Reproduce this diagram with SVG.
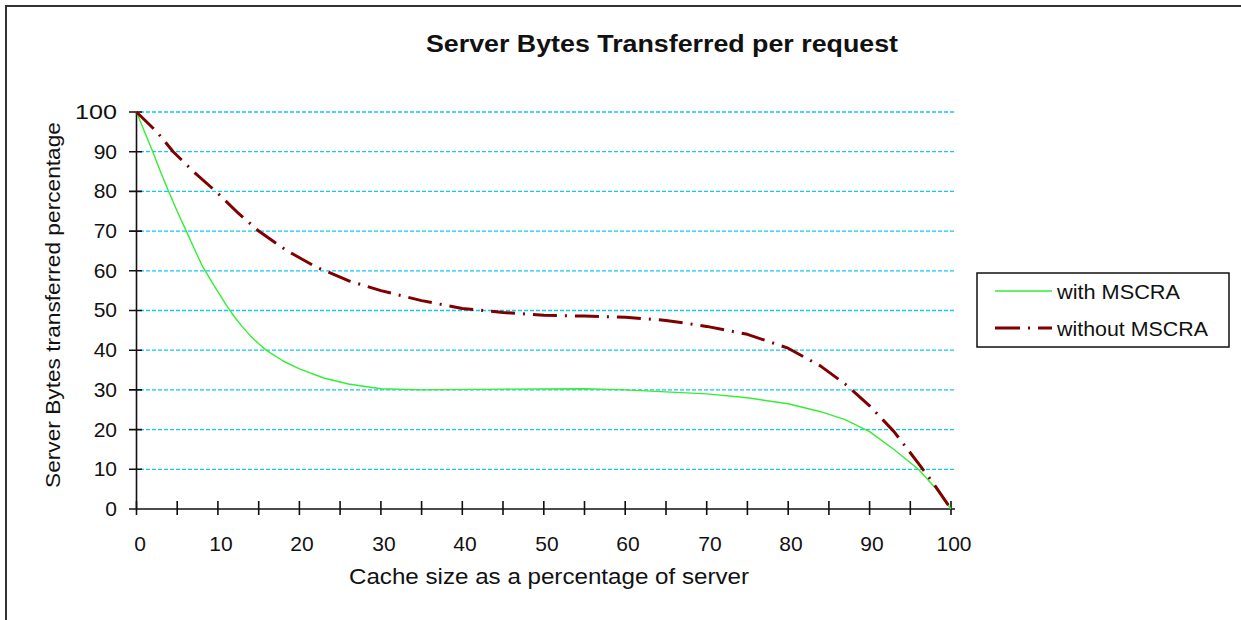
<svg xmlns="http://www.w3.org/2000/svg" width="1241" height="620" viewBox="0 0 1241 620">
<style>
text{font-family:"Liberation Sans",Arial,sans-serif;fill:#111}
.tk{font-size:21px}
.grid{stroke:#10c8fa;stroke-width:1.3;stroke-dasharray:4 2}
.axis{stroke:#111;stroke-width:1.6;fill:none}
.with{fill:none;stroke:#33ee33;stroke-width:1.4;stroke-linejoin:round}
.without{fill:none;stroke:#800000;stroke-width:3;stroke-dasharray:24 8 2 8;stroke-linejoin:round}
</style>
<rect width="1241" height="620" fill="#fff"/>
<path d="M6,620 V6 H1241" fill="none" stroke="#333" stroke-width="2"/>
<g id="title"><text x="662" y="52" text-anchor="middle" font-size="23" font-weight="bold" textLength="472" lengthAdjust="spacingAndGlyphs">Server Bytes Transferred  per request</text></g>
<g id="grid">
<line class="grid" x1="140" y1="112" x2="955" y2="112"/>
<line class="grid" x1="140" y1="151.7" x2="955" y2="151.7"/>
<line class="grid" x1="140" y1="191.4" x2="955" y2="191.4"/>
<line class="grid" x1="140" y1="231.1" x2="955" y2="231.1"/>
<line class="grid" x1="140" y1="270.8" x2="955" y2="270.8"/>
<line class="grid" x1="140" y1="310.5" x2="955" y2="310.5"/>
<line class="grid" x1="140" y1="350.2" x2="955" y2="350.2"/>
<line class="grid" x1="140" y1="389.9" x2="955" y2="389.9"/>
<line class="grid" x1="140" y1="429.6" x2="955" y2="429.6"/>
<line class="grid" x1="140" y1="469.3" x2="955" y2="469.3"/>
</g>
<g id="axes">
<path class="axis" d="M136.5,112 V509 M129,509 H955"/>
<path class="axis" d="M129,112 H142 M129,151.7 H142 M129,191.4 H142 M129,231.1 H142 M129,270.8 H142 M129,310.5 H142 M129,350.2 H142 M129,389.9 H142 M129,429.6 H142 M129,469.3 H142"/>
<path class="axis" d="M136.5,501 V515 M177.2,501 V515 M217.9,501 V515 M258.7,501 V515 M299.4,501 V515 M340.1,501 V515 M380.9,501 V515 M421.6,501 V515 M462.3,501 V515 M503,501 V515 M543.8,501 V515 M584.5,501 V515 M625.2,501 V515 M666,501 V515 M706.7,501 V515 M747.4,501 V515 M788.2,501 V515 M828.9,501 V515 M869.6,501 V515 M910.3,501 V515 M951,501 V515"/>
</g>
<g id="ylabels" class="tk" text-anchor="end">
<text x="117" y="119" textLength="42" lengthAdjust="spacingAndGlyphs">100</text>
<text x="117" y="159">90</text>
<text x="117" y="198">80</text>
<text x="117" y="238">70</text>
<text x="117" y="278">60</text>
<text x="117" y="317">50</text>
<text x="117" y="357">40</text>
<text x="117" y="397">30</text>
<text x="117" y="437">20</text>
<text x="117" y="476">10</text>
<text x="117" y="516">0</text>
</g>
<g id="xlabels" class="tk" text-anchor="middle">
<text x="140" y="551">0</text>
<text x="221" y="551">10</text>
<text x="302" y="551">20</text>
<text x="384" y="551">30</text>
<text x="465" y="551">40</text>
<text x="547" y="551">50</text>
<text x="628" y="551">60</text>
<text x="710" y="551">70</text>
<text x="791" y="551">80</text>
<text x="872" y="551">90</text>
<text x="954" y="551">100</text>
</g>
<g id="xtitle"><text x="549" y="584" text-anchor="middle" font-size="22" textLength="400" lengthAdjust="spacingAndGlyphs">Cache size as a percentage of server</text></g>
<g id="ytitle"><text transform="translate(60,305) rotate(-90)" text-anchor="middle" font-size="21" textLength="366" lengthAdjust="spacingAndGlyphs">Server Bytes transferred percentage</text></g>
<g id="connectors">
<polyline id="with-mscra" class="with" points="136.5,112 144.6,131.9 152.8,151.7 160.9,172.7 169.1,192.6 177.2,211.3 185.4,229.1 193.5,247 201.7,264.8 209.8,278.7 218,291.8 226.1,304.9 234.2,316.5 242.4,326.9 250.5,335.9 258.7,343.8 266.8,350.6 283.1,361 299.4,368.9 323.8,378 348.3,384 380.9,388.7 421.6,389.9 503,389.1 584.5,388.7 625.2,389.9 665.9,391.9 706.7,393.9 747.4,397.8 788.1,403.8 820.7,411.7 845.1,419.7 869.6,431.6 894,449.5 918.4,469.3 934.7,487.2 951,509"/>
<polyline id="without-mscra" class="without" points="136.5,112 156.9,131.9 173.2,151.7 193.5,171.6 218,193.4 238.3,213.2 258.7,231.1 287.2,250.9 315.7,266.8 348.3,280.7 380.9,290.6 421.6,300.6 462.3,308.5 503,312.5 543.8,315.3 584.5,316.1 625.2,317.2 665.9,320.4 706.7,326.4 747.4,334.3 788.1,348.2 820.7,366.1 845.1,384 869.6,405.8 894,431.6 918.4,463.3 934.7,485.2 951,509"/>
</g>
<g id="legend">
<rect x="977" y="273" width="252" height="74" fill="#fff" stroke="#111" stroke-width="1.5"/>
<line class="with" x1="995" y1="291" x2="1052" y2="291"/>
<text x="1057" y="299" font-size="20" textLength="123" lengthAdjust="spacingAndGlyphs">with MSCRA</text>
<line class="without" x1="995" y1="328" x2="1052" y2="328" style="stroke-dasharray:25 8 2 8"/>
<text x="1057" y="336" font-size="20" textLength="151" lengthAdjust="spacingAndGlyphs">without MSCRA</text>
</g>
</svg>
